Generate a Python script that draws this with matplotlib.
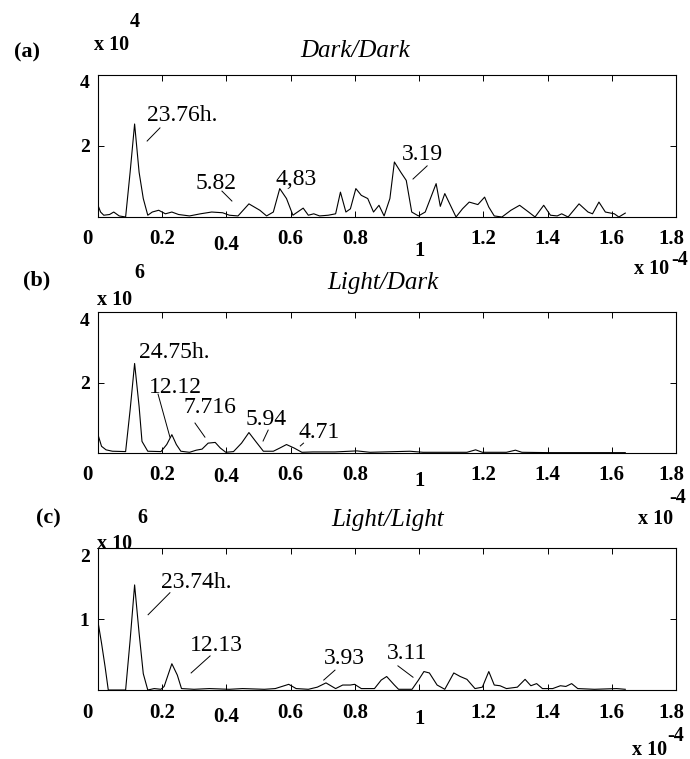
import matplotlib
matplotlib.use('Agg')
import matplotlib.pyplot as plt
from matplotlib.transforms import ScaledTranslation

# spectra, frequency in units of 1e-4 Hz
freq_a = [0.000, 0.008, 0.018, 0.036, 0.049, 0.066, 0.086, 0.100, 0.114, 0.128, 0.141, 0.155,
          0.169, 0.189, 0.210, 0.230, 0.251, 0.285, 0.319, 0.354, 0.388, 0.409, 0.436, 0.470,
          0.504, 0.525, 0.546, 0.566, 0.587, 0.607, 0.639, 0.655, 0.672, 0.690, 0.717, 0.740,
          0.755, 0.772, 0.786, 0.803, 0.820, 0.840, 0.858, 0.875, 0.891, 0.909, 0.923, 0.943,
          0.960, 0.977, 0.998, 1.019, 1.053, 1.066, 1.080, 1.115, 1.135, 1.156, 1.183, 1.204,
          1.217, 1.234, 1.258, 1.286, 1.313, 1.341, 1.361, 1.388, 1.409, 1.430, 1.444, 1.464,
          1.498, 1.526, 1.540, 1.560, 1.580, 1.608, 1.622, 1.642]
amp_a = [0.33, 0.14, 0.05, 0.07, 0.14, 0.03, 0.00, 1.26, 2.62, 1.26, 0.52, 0.05,
         0.14, 0.19, 0.09, 0.14, 0.07, 0.03, 0.09, 0.14, 0.12, 0.05, 0.03, 0.37,
         0.19, 0.03, 0.14, 0.80, 0.52, 0.05, 0.25, 0.05, 0.09, 0.03, 0.05, 0.09,
         0.70, 0.14, 0.23, 0.80, 0.61, 0.52, 0.14, 0.33, 0.03, 0.52, 1.55, 1.26,
         1.03, 0.14, 0.03, 0.14, 0.94, 0.30, 0.66, 0.00, 0.23, 0.42, 0.35, 0.56,
         0.28, 0.03, 0.00, 0.19, 0.33, 0.14, 0.00, 0.33, 0.05, 0.03, 0.09, 0.00,
         0.37, 0.14, 0.09, 0.42, 0.14, 0.09, 0.00, 0.11]

freq_b = [0.000, 0.011, 0.025, 0.045, 0.086, 0.100, 0.114, 0.128, 0.137, 0.155, 0.196, 0.214,
          0.230, 0.244, 0.258, 0.285, 0.306, 0.324, 0.343, 0.365, 0.381, 0.398, 0.422, 0.447,
          0.470, 0.491, 0.515, 0.546, 0.566, 0.587, 0.611, 0.635, 0.669, 0.738, 0.806, 0.847,
          0.930, 0.971, 1.012, 1.149, 1.176, 1.197, 1.272, 1.300, 1.320, 1.409, 1.642]
amp_b = [0.52, 0.19, 0.09, 0.05, 0.04, 1.22, 2.54, 1.32, 0.33, 0.05, 0.04, 0.24,
         0.52, 0.24, 0.05, 0.02, 0.08, 0.11, 0.28, 0.30, 0.14, 0.02, 0.04, 0.28,
         0.58, 0.33, 0.05, 0.05, 0.14, 0.24, 0.14, 0.02, 0.03, 0.03, 0.06, 0.02,
         0.04, 0.05, 0.02, 0.02, 0.09, 0.02, 0.02, 0.08, 0.02, 0.01, 0.01]

freq_c = [0.000, 0.011, 0.022, 0.032, 0.086, 0.100, 0.114, 0.128, 0.141, 0.155, 0.175, 0.196,
          0.206, 0.230, 0.247, 0.260, 0.299, 0.347, 0.409, 0.450, 0.518, 0.552, 0.594, 0.617,
          0.655, 0.683, 0.710, 0.740, 0.762, 0.786, 0.799, 0.820, 0.861, 0.882, 0.899, 0.923,
          0.936, 0.978, 0.998, 1.015, 1.032, 1.056, 1.080, 1.108, 1.128, 1.149, 1.174, 1.197,
          1.217, 1.234, 1.252, 1.272, 1.306, 1.330, 1.348, 1.366, 1.384, 1.416, 1.440, 1.457,
          1.475, 1.494, 1.546, 1.615, 1.642]
amp_c = [0.96, 0.66, 0.33, 0.00, 0.00, 0.70, 1.48, 0.80, 0.23, 0.00, 0.02, 0.01,
         0.05, 0.37, 0.21, 0.02, 0.01, 0.02, 0.01, 0.02, 0.01, 0.02, 0.08, 0.02,
         0.01, 0.04, 0.10, 0.02, 0.07, 0.07, 0.08, 0.02, 0.02, 0.14, 0.19, 0.07,
         0.01, 0.01, 0.14, 0.26, 0.24, 0.07, 0.01, 0.24, 0.19, 0.15, 0.02, 0.04,
         0.26, 0.07, 0.06, 0.02, 0.04, 0.15, 0.06, 0.09, 0.02, 0.02, 0.06, 0.05,
         0.09, 0.02, 0.01, 0.02, 0.01]

# peak period labels (hours)
labels_a = ['23.76h.', '5.82', '4,83', '3.19']
labels_b = ['24.75h.', '12.12', '7.716', '5.94', '4.71']
labels_c = ['23.74h.', '12.13', '3.93', '3.11']

xticks = [0, 0.2, 0.4, 0.6, 0.8, 1.0, 1.2, 1.4, 1.6, 1.8]
xticklabels = ['0', '0.2', '0.4', '0.6', '0.8', '1', '1.2', '1.4', '1.6', '1.8']

W, H = 690, 759
SERIF = ['Liberation Serif', 'DejaVu Serif']

fig = plt.figure(figsize=(W / 100, H / 100), dpi=100)


def px(x, y):
    return x / W, 1 - y / H


def ftext(x, y, s, **kw):
    kw.setdefault('family', SERIF)
    kw.setdefault('ha', 'center')
    kw.setdefault('va', 'center')
    fig.text(*px(x, y), s, **kw)


def shift(lab, dx, dy):
    # nudge a tick label by a number of pixels
    lab.set_transform(lab.get_transform() + ScaledTranslation(dx / 100, -dy / 100, fig.dpi_scale_trans))


def panel(top, bottom, freq, amp, ymax, yticks, labels, label_pos, leaders, drop1, drop04):
    x0, y0 = px(98, bottom)
    x1, y1 = px(676, top)
    ax = fig.add_axes([x0, y0, x1 - x0, y1 - y0])
    ax.plot(freq, amp, color='black', lw=0.8)
    ax.set_xlim(0, 1.8)
    ax.set_ylim(0, ymax)
    ax.set_xticks(xticks)
    ax.set_xticklabels(xticklabels)
    ax.set_yticks(yticks)
    ax.set_yticklabels([str(t) for t in yticks])
    ax.tick_params(direction='in', top=True, right=True, length=4, width=0.7)
    ax.tick_params(axis='x', pad=9, labelsize=15)
    ax.tick_params(axis='y', pad=6, labelsize=14)
    for lab in ax.get_xticklabels() + ax.get_yticklabels():
        lab.set_family(SERIF)
        lab.set_fontweight('bold')
    xl = ax.get_xticklabels()
    shift(xl[0], -11, 0)
    shift(xl[2], 0, drop04)
    shift(xl[5], 0, drop1)
    shift(xl[-1], -5, 0)
    shift(ax.get_yticklabels()[-1], 0, 7)
    for sp in ax.spines.values():
        sp.set_linewidth(0.8)
    for s, (tx, ty), ln in zip(labels, label_pos, leaders):
        ax.text(tx, ty, s, family=SERIF, fontsize=17, ha='center', va='center')
        if ln is not None:
            ax.plot([ln[0][0], ln[1][0]], [ln[0][1], ln[1][1]], color='black', lw=0.7)
    return ax


panel(75, 217, freq_a, amp_a, 4, [2, 4], labels_a,
      [(0.262, 2.87), (0.368, 0.93), (0.617, 1.07), (1.009, 1.77)],
      [((0.193, 2.51), (0.153, 2.14)), ((0.386, 0.73), (0.417, 0.45)), None,
       ((1.025, 1.44), (0.981, 1.07))],
      drop1=12, drop04=5)
panel(312, 453, freq_b, amp_b, 4, [2, 4], labels_b,
      [(0.238, 2.84), (0.24, 1.87), (0.349, 1.28), (0.523, 0.96), (0.69, 0.57)],
      [None, ((0.187, 1.67), (0.224, 0.45)), ((0.302, 0.85), (0.333, 0.45)),
       ((0.53, 0.65), (0.514, 0.34)), ((0.64, 0.28), (0.63, 0.2))],
      drop1=6, drop04=2)
panel(548, 690, freq_c, amp_c, 2, [1, 2], labels_c,
      [(0.305, 1.52), (0.37, 0.63), (0.766, 0.45), (0.963, 0.51)],
      [((0.224, 1.37), (0.156, 1.06)), ((0.349, 0.48), (0.29, 0.24)),
       ((0.738, 0.28), (0.703, 0.14)), ((0.934, 0.34), (0.981, 0.18))],
      drop1=6, drop04=5)

# panel letters, titles and axis multipliers
letter = dict(fontsize=16, fontweight='bold')
ftext(27, 52, '(a)', **letter)
ftext(37, 280, '(b)', **letter)
ftext(48, 518, '(c)', **letter)

title = dict(fontsize=18, style='italic')
ftext(355, 51, 'Dark/Dark', **title)
ftext(383, 283, 'Light/Dark', **title)
ftext(388, 520, 'Light/Light', **title)

bold = dict(fontsize=14.5, fontweight='bold')
ftext(112, 45, 'x 10', **bold)
ftext(135, 22, '4', **bold)
ftext(115, 300, 'x 10', **bold)
ftext(139, 273, '6', **bold)
ftext(115, 544, 'x 10', **bold)
ftext(142, 518, '6', **bold)

ftext(652, 269, 'x 10', **bold)
ftext(680, 260, '-4', **bold)
ftext(678, 498, '-4', **bold)
ftext(656, 519, 'x 10', **bold)
ftext(676, 736, '-4', **bold)
ftext(650, 750, 'x 10', **bold)

fig.savefig('out.png', dpi=100)
